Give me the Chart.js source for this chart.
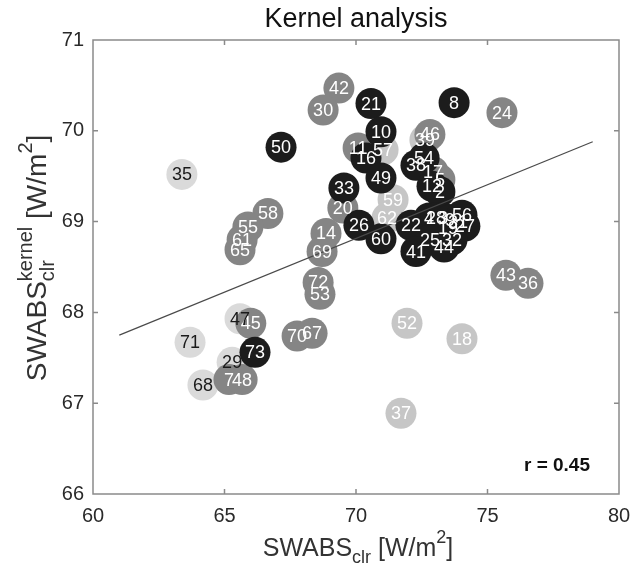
<!DOCTYPE html>
<html>
<head>
<meta charset="utf-8">
<script src="https://cdn.jsdelivr.net/npm/chart.js@4"></script>
<style>
  html, body { margin: 0; padding: 0; background: #fff; }
  #wrap { width: 641px; height: 575px; }
</style>
</head>
<body>
<div id="wrap"><canvas id="kernelChart" width="641" height="575"></canvas></div>
<script>
// point labels, SWABS_clr (x), SWABS_clr^kernel (y), shade group
const ids = [21, 8, 50, 10, 16, 54, 38, 49, 12, 2, 33, 26, 60, 22, 4, 28, 3, 9, 56, 31, 27, 19, 25, 32, 44, 41, 73,
             42, 30, 24, 46, 11, 17, 5, 20, 14, 58, 55, 61, 65, 69, 72, 53, 43, 36, 45, 7, 48, 70, 67,
             39, 57, 59, 62, 52, 18, 37,
             35, 71, 47, 29, 68];
const swabsClr = [70.57, 73.73, 67.15, 70.95, 70.38, 72.59, 72.28, 70.95, 72.89, 73.19, 69.54, 70.11, 70.95, 72.09, 72.78, 73.04, 73.31, 73.57, 74.03, 73.88, 74.14, 73.5, 72.81, 73.65, 73.35, 72.28, 66.16,
                  69.35, 68.75, 75.55, 72.81, 70.08, 72.93, 73.19, 69.5, 68.86, 66.65, 65.89, 65.67, 65.59, 68.71, 68.56, 68.63, 75.7, 76.54, 66.0, 65.17, 65.67, 67.76, 68.33,
                  72.62, 71.03, 71.41, 71.18, 71.94, 74.03, 71.71,
                  63.38, 63.69, 65.59, 65.29, 64.18];
const swabsKernel = [70.3, 70.31, 69.82, 69.99, 69.7, 69.7, 69.62, 69.48, 69.39, 69.33, 69.37, 68.96, 68.81, 68.96, 69.04, 69.04, 69.04, 69.02, 69.07, 68.99, 68.95, 68.93, 68.8, 68.8, 68.72, 68.67, 67.56,
                     70.47, 70.23, 70.2, 69.96, 69.81, 69.55, 69.46, 69.15, 68.87, 69.09, 68.94, 68.8, 68.69, 68.67, 68.33, 68.2, 68.41, 68.32, 67.88, 67.26, 67.26, 67.74, 67.77,
                     69.9, 69.79, 69.24, 69.04, 67.88, 67.71, 66.89,
                     69.52, 67.67, 67.93, 67.45, 67.2];
const shade = ['D','D','D','D','D','D','D','D','D','D','D','D','D','D','D','D','D','D','D','D','D','D','D','D','D','D','D',
               'M','M','M','M','M','M','M','M','M','M','M','M','M','M','M','M','M','M','M','M','M','M','M',
               'L','L','L','L','L','L','L',
               'V','V','V','V','V'];

// regression line end points and correlation
const fitX = [61, 79];
const fitY = [67.75, 69.88];
const rText = 'r = 0.45';

const shadeColor = { D: '#1c1c1c', M: '#858585', L: '#c6c6c6', V: '#dadada' };
const textColor = { D: '#ffffff', M: '#ffffff', L: '#ffffff', V: '#1a1a1a' };

function pointsOf(g) {
  const out = [];
  ids.forEach((id, i) => {
    if (shade[i] === g) out.push({ x: swabsClr[i], y: swabsKernel[i], id: id });
  });
  return out;
}

const FONT = '"Liberation Sans", Arial, Helvetica, sans-serif';

// draws a string made of parts with sub/superscripts, centred on (cx, cy)
function drawRich(ctx, parts, cx, cy, size) {
  const small = Math.round(size * 0.72);
  let total = 0;
  parts.forEach(p => {
    if (p.sup !== undefined || p.sub !== undefined) {
      ctx.font = small + 'px ' + FONT;
      p.w = Math.max(p.sup ? ctx.measureText(p.sup).width : 0, p.sub ? ctx.measureText(p.sub).width : 0);
    } else {
      ctx.font = size + 'px ' + FONT;
      p.w = ctx.measureText(p.t).width;
    }
    total += p.w;
  });
  let x = cx - total / 2;
  ctx.textAlign = 'left';
  ctx.textBaseline = 'middle';
  parts.forEach(p => {
    if (p.sup !== undefined || p.sub !== undefined) {
      ctx.font = small + 'px ' + FONT;
      if (p.sup) ctx.fillText(p.sup, x, cy - size * 0.42);
      if (p.sub) ctx.fillText(p.sub, x, cy + size * 0.38);
    } else {
      ctx.font = size + 'px ' + FONT;
      ctx.fillText(p.t, x, cy);
    }
    x += p.w;
  });
}

const decorPlugin = {
  id: 'decor',
  afterDatasetsDraw(chart) {
    const ctx = chart.ctx;
    // point numbers on top of all circles
    ctx.save();
    ctx.font = '18px ' + FONT;
    ctx.textAlign = 'center';
    ctx.textBaseline = 'middle';
    chart.data.datasets.forEach((ds, di) => {
      if (!ds.group) return;
      const meta = chart.getDatasetMeta(di);
      meta.data.forEach((el, j) => {
        ctx.fillStyle = textColor[ds.group];
        ctx.fillText(String(ds.data[j].id), el.x, el.y + 1);
      });
    });
    ctx.restore();
  },
  afterDraw(chart) {
    const ctx = chart.ctx;
    const a = chart.chartArea;
    const xs = chart.scales.x, ys = chart.scales.y;
    ctx.save();
    // box and inward ticks
    ctx.strokeStyle = '#8a8a8a';
    ctx.lineWidth = 1.5;
    ctx.strokeRect(a.left, a.top, a.right - a.left, a.bottom - a.top);
    ctx.beginPath();
    [65, 70, 75].forEach(v => {
      const px = xs.getPixelForValue(v);
      ctx.moveTo(px, a.bottom); ctx.lineTo(px, a.bottom - 5);
      ctx.moveTo(px, a.top); ctx.lineTo(px, a.top + 5);
    });
    [67, 68, 69, 70].forEach(v => {
      const py = ys.getPixelForValue(v);
      ctx.moveTo(a.left, py); ctx.lineTo(a.left + 5, py);
      ctx.moveTo(a.right, py); ctx.lineTo(a.right - 5, py);
    });
    ctx.stroke();

    // title
    ctx.fillStyle = '#111';
    ctx.font = '27px ' + FONT;
    ctx.textAlign = 'center';
    ctx.textBaseline = 'middle';
    ctx.fillText('Kernel analysis', (a.left + a.right) / 2, 20);

    // r value
    ctx.font = 'bold 19px ' + FONT;
    ctx.textAlign = 'right';
    ctx.fillText(rText, 590, 466);

    // axis titles
    ctx.fillStyle = '#333';
    drawRich(ctx, [{ t: 'SWABS' }, { sub: 'clr' }, { t: ' [W/m' }, { sup: '2' }, { t: ']' }],
      (a.left + a.right) / 2 + 2, 549, 25);
    ctx.translate(38, 258);
    ctx.rotate(-Math.PI / 2);
    drawRich(ctx, [{ t: 'SWABS' }, { sup: 'kernel', sub: 'clr' }, { t: ' [W/m' }, { sup: '2' }, { t: ']' }],
      0, 0, 28);
    ctx.restore();
  }
};

const groups = ['D', 'M', 'L', 'V'];
const datasets = [{
  type: 'line',
  data: fitX.map((x, i) => ({ x: x, y: fitY[i] })),
  borderColor: '#4a4a4a',
  borderWidth: 1.2,
  pointRadius: 0,
  fill: false
}];
groups.forEach(g => {
  datasets.push({
    group: g,
    data: pointsOf(g),
    pointRadius: 15.5,
    pointHoverRadius: 15.5,
    pointBorderWidth: 0,
    pointBackgroundColor: shadeColor[g],
    backgroundColor: shadeColor[g],
    borderColor: shadeColor[g]
  });
});

new Chart(document.getElementById('kernelChart'), {
  type: 'scatter',
  data: { datasets: datasets },
  options: {
    responsive: false,
    animation: false,
    layout: { padding: { top: 40, right: 22, left: 0, bottom: 0 } },
    plugins: { legend: { display: false }, tooltip: { enabled: false }, title: { display: false } },
    scales: {
      x: {
        type: 'linear', min: 60, max: 80,
        ticks: { stepSize: 5, color: '#2a2a2a', font: { size: 20, family: FONT }, padding: 10 },
        grid: { display: false, drawTicks: false },
        border: { display: false },
        afterFit: s => { s.height = 81; }
      },
      y: {
        type: 'linear', min: 66, max: 71,
        ticks: { stepSize: 1, color: '#2a2a2a', font: { size: 20, family: FONT }, padding: 9 },
        grid: { display: false, drawTicks: false },
        border: { display: false },
        afterFit: s => { s.width = 93; }
      }
    }
  },
  plugins: [decorPlugin]
});
</script>
</body>
</html>
